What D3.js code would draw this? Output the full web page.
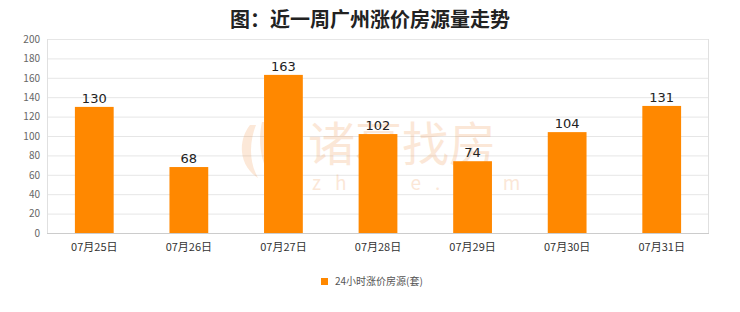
<!DOCTYPE html>
<html>
<head>
<meta charset="UTF-8">
<style>
body { margin: 0; background: #fff; }
svg text { font-family: "Noto Sans CJK SC", "Noto Sans", sans-serif; }
</style>
</head>
<body>
<svg width="740" height="312"></svg>
<script src="https://cdn.jsdelivr.net/npm/d3@7/dist/d3.min.js"></script>
<script>
var dates = ["07月25日", "07月26日", "07月27日", "07月28日", "07月29日", "07月30日", "07月31日"];
var counts = [130, 68, 163, 102, 74, 104, 131];
var yTicks = [0, 20, 40, 60, 80, 100, 120, 140, 160, 180, 200];
var seriesName = "24小时涨价房源(套)";

var svg = d3.select("svg"),
    margin = {top: 39, right: 31, bottom: 79, left: 47},
    width = 740 - margin.left - margin.right,
    height = 312 - margin.top - margin.bottom;

svg.append("text")
    .attr("x", 370).attr("y", 27)
    .attr("text-anchor", "middle")
    .style("font-size", "20px").style("font-weight", "bold").attr("fill", "#222")
    .text("图：近一周广州涨价房源量走势");

var x = d3.scaleBand().domain(dates).range([0, width]).paddingInner(0.59).paddingOuter(0.295);
var y = d3.scaleLinear().domain([0, 200]).range([height, 0]);

var g = svg.append("g").attr("transform", "translate(" + margin.left + "," + margin.top + ")");

// grid
g.selectAll(".grid").data(yTicks).enter().append("line")
    .attr("x1", 0).attr("x2", width)
    .attr("y1", function(d) { return y(d) + 0.5; })
    .attr("y2", function(d) { return y(d) + 0.5; })
    .attr("stroke", "#e6e6e6");

g.append("line").attr("x1", 0.5).attr("x2", 0.5).attr("y1", 0).attr("y2", height).attr("stroke", "#e0e0e0");
g.append("line").attr("x1", width - 0.5).attr("x2", width - 0.5).attr("y1", 0).attr("y2", height).attr("stroke", "#e0e0e0");
g.append("line").attr("x1", 0).attr("x2", width).attr("y1", height + 0.5).attr("y2", height + 0.5).attr("stroke", "#ccc");

// watermark (sits behind the bars)
var wm = svg.append("g").attr("opacity", 0.2).attr("fill", "#f08a3c");
wm.append("path")
    .attr("d", "M250,125 C238,140 238,165 258,178 C248,160 250,140 256,125 Z M262,122 C258,140 260,160 270,176 C268,155 268,138 268,122 Z M274,125 C278,140 278,160 272,178 C290,165 290,140 274,125 Z");
wm.append("text").attr("x", 308).attr("y", 161).style("font-size", "47px").text("诸葛找房");
wm.append("text").attr("x", 312).attr("y", 190).style("font-size", "19px").attr("letter-spacing", "14px").text("zhuge.com");

var fg = svg.append("g").attr("transform", "translate(" + margin.left + "," + margin.top + ")");

// axes
var yAxis = fg.append("g").call(d3.axisLeft(y).tickValues(yTicks).tickSize(0).tickPadding(7));
yAxis.select(".domain").remove();
yAxis.selectAll("text").attr("fill", "#666").style("font-size", "10px");

var xAxis = fg.append("g").attr("transform", "translate(0," + height + ")")
    .call(d3.axisBottom(x).tickSize(0).tickPadding(10));
xAxis.select(".domain").remove();
xAxis.selectAll("text").attr("fill", "#333").style("font-size", "11px");

// bars
fg.selectAll(".bar").data(counts).enter().append("rect")
    .attr("x", function(d, i) { return x(dates[i]); })
    .attr("y", function(d) { return y(d); })
    .attr("width", x.bandwidth())
    .attr("height", function(d) { return height - y(d); })
    .attr("fill", "#ff8800");

fg.selectAll(".val").data(counts).enter().append("text")
    .attr("x", function(d, i) { return x(dates[i]) + x.bandwidth() / 2; })
    .attr("y", function(d) { return y(d) - 4; })
    .attr("text-anchor", "middle")
    .attr("fill", "#222").style("font-size", "13px").style("font-family", "DejaVu Sans")
    .text(function(d) { return d; });

// legend
var lg = svg.append("g").attr("transform", "translate(321,278)");
lg.append("rect").attr("width", 7).attr("height", 7).attr("fill", "#ff8800");
lg.append("text").attr("x", 14).attr("y", 7).attr("fill", "#555").style("font-size", "10px").text(seriesName);
</script>
</body>
</html>
